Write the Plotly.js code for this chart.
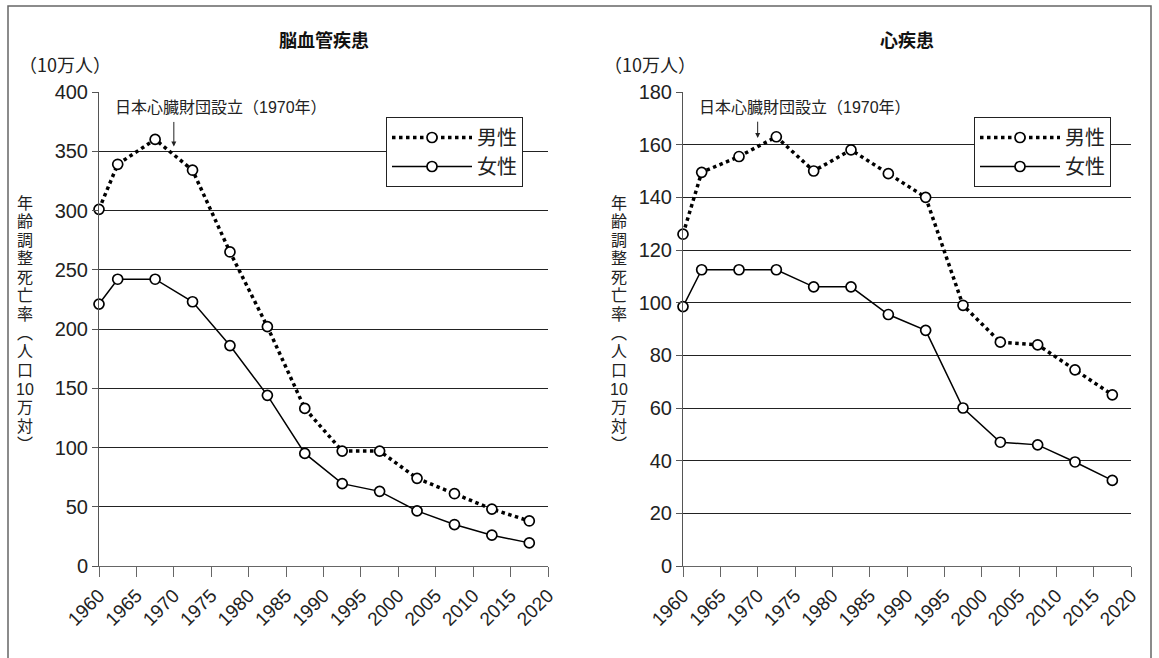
<!DOCTYPE html>
<html>
<head>
<meta charset="utf-8">
<script src="https://cdn.plot.ly/plotly-3.0.1.min.js"></script>
<style>html,body{margin:0;padding:0;background:#fff;}#chart{width:1159px;height:658px;}</style>
</head>
<body>
<div id="chart"></div>
<script>
// ---- data ----
const years = [1960, 1962.5, 1967.5, 1972.5, 1977.5, 1982.5, 1987.5, 1992.5, 1997.5, 2002.5, 2007.5, 2012.5, 2017.5];
const cerebroMale   = [301, 339, 360, 334, 265, 202, 133, 97, 97, 74, 61, 48, 38];
const cerebroFemale = [221, 242, 242, 223, 186, 144, 95, 69.5, 63, 46.5, 35, 26, 19.5];
const heartMale     = [126, 149.5, 155.5, 163, 150, 158, 149, 140, 99, 85, 84, 74.5, 65];
const heartFemale   = [98.5, 112.5, 112.5, 112.5, 106, 106, 95.5, 89.5, 60, 47, 46, 39.5, 32.5];
const seriesNames = ['男性', '女性'];
const panelTitles = ['脳血管疾患', '心疾患'];
const unitLabel = '（10万人）';
const yTitleChars = ['年','齢','調','整','死','亡','率','︵','人','口','10','万','対','︶'];
const eventLabel = '日本心臓財団設立（1970年）';
const eventYear = 1970;
const xTickVals = [1960,1965,1970,1975,1980,1985,1990,1995,2000,2005,2010,2015,2020];

// ---- styling ----
const W = 1159, H = 658;
const px = v => v / W;
const py = v => 1 - v / H;
const FONT = 'Liberation Sans, Arial, Noto Sans CJK JP, sans-serif';
const CJK = 'Noto Sans CJK JP, sans-serif';

const markerStyle = {symbol: 'circle', size: 10, color: '#fff', line: {color: '#000', width: 1.7}};
function mkTrace(y, sex, xa, ya, legendId, showleg) {
  return {
    x: years, y: y, type: 'scatter', mode: 'lines+markers',
    name: seriesNames[sex], xaxis: xa, yaxis: ya, legend: legendId, showlegend: showleg,
    line: sex === 0 ? {color: '#000', width: 3.5, dash: 'dot'} : {color: '#000', width: 1.5},
    marker: markerStyle, cliponaxis: false, hoverinfo: 'x+y+name'
  };
}
const data = [
  mkTrace(cerebroMale, 0, 'x', 'y', 'legend', true),
  mkTrace(cerebroFemale, 1, 'x', 'y', 'legend', true),
  mkTrace(heartMale, 0, 'x2', 'y2', 'legend2', true),
  mkTrace(heartFemale, 1, 'x2', 'y2', 'legend2', true)
];

const yDomain = [py(566), py(92)];
function xAxis(dom, anchor) {
  return {
    domain: dom, anchor: anchor, range: [1960, 2020], tickvals: xTickVals,
    ticktext: xTickVals.map(String), tickangle: -45, ticks: 'outside', ticklen: 10,
    tickcolor: '#666', tickwidth: 1, showline: true, linecolor: '#666', linewidth: 1,
    showgrid: false, zeroline: false, tickfont: {family: FONT, size: 19, color: '#222'}
  };
}
function yAxis(anchor, maxv, step) {
  return {
    domain: yDomain, anchor: anchor, range: [0, maxv], dtick: step, tick0: 0,
    ticks: 'outside', ticklen: 6, tickcolor: '#555', showline: true, linecolor: '#555',
    linewidth: 1, showgrid: true, gridcolor: '#222', gridwidth: 1, zeroline: false,
    tickfont: {family: FONT, size: 20, color: '#222'}
  };
}

const annotations = [];
const panels = [
  {cx: 323.5, unitX: 65, ytX: 25, evX: 221, xref: 'x', yref: 'y', head: 354, tail: 376},
  {cx: 907, unitX: 650, ytX: 619, evX: 805, xref: 'x2', yref: 'y2', head: 162.5, tail: 169.3}
];
panels.forEach((p, i) => {
  annotations.push({xref: 'paper', yref: 'paper', x: px(p.cx), y: py(39), text: '<b>' + panelTitles[i] + '</b>',
    showarrow: false, font: {family: CJK, size: 18, color: '#111'}, xanchor: 'center', yanchor: 'middle'});
  annotations.push({xref: 'paper', yref: 'paper', x: px(p.unitX), y: py(64), text: unitLabel,
    showarrow: false, font: {family: CJK, size: 18, color: '#222'}, xanchor: 'center', yanchor: 'middle'});
  yTitleChars.forEach((ch, k) => {
    annotations.push({xref: 'paper', yref: 'paper', x: px(p.ytX), y: py(203 + k * 18.6), text: ch,
      showarrow: false, font: {family: FONT, size: 16, color: '#222'},
      xanchor: 'center', yanchor: 'middle'});
  });
  annotations.push({xref: 'paper', yref: 'paper', x: px(p.evX), y: py(108), text: eventLabel,
    showarrow: false, font: {family: FONT, size: 16, color: '#222'}, xanchor: 'center', yanchor: 'middle'});
  annotations.push({xref: p.xref, yref: p.yref, x: eventYear, y: p.head, axref: p.xref, ayref: p.yref,
    ax: eventYear, ay: p.tail, text: '', showarrow: true, arrowhead: 2, arrowsize: 1, arrowwidth: 1,
    arrowcolor: '#222'});
});

const legendBase = {
  xanchor: 'left', yanchor: 'top', bgcolor: '#fff', bordercolor: '#222', borderwidth: 1,
  font: {family: CJK, size: 20, color: '#222'}, orientation: 'v', tracegroupgap: 0,
  itemwidth: 80
};

const layout = {
  width: W, height: H, margin: {l: 0, r: 0, t: 0, b: 0, pad: 0},
  paper_bgcolor: '#fff', plot_bgcolor: '#fff', font: {family: FONT, color: '#222'},
  showlegend: true,
  xaxis: xAxis([px(99), px(548)], 'y'),
  yaxis: yAxis('x', 400, 50),
  xaxis2: xAxis([px(683), px(1131)], 'y2'),
  yaxis2: yAxis('x2', 180, 20),
  legend: Object.assign({x: px(386), y: py(117)}, legendBase),
  legend2: Object.assign({x: px(974), y: py(117)}, legendBase),
  annotations: annotations,
  shapes: [{type: 'rect', xref: 'paper', yref: 'paper', x0: px(8), x1: px(1151), y0: -0.1, y1: py(6),
    line: {color: '#666', width: 1.5}, fillcolor: 'rgba(0,0,0,0)', layer: 'below'}]
};

Plotly.newPlot('chart', data, layout, {displayModeBar: false, staticPlot: true});
</script>
</body>
</html>
